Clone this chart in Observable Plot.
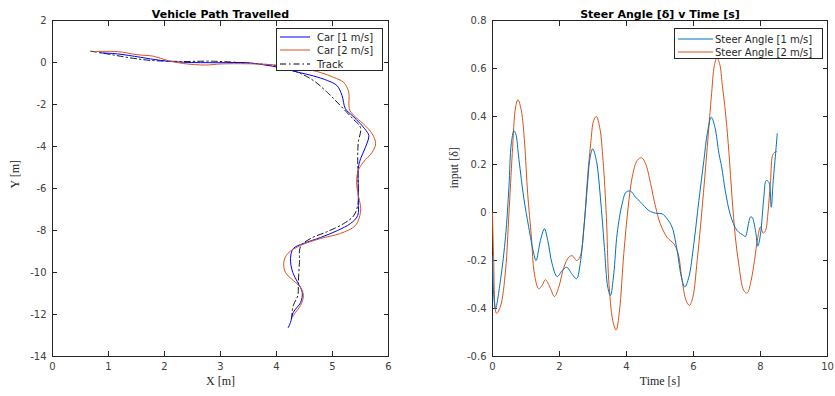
<!DOCTYPE html>
<html><head><meta charset="utf-8">
<script src="https://cdn.jsdelivr.net/npm/d3@7"></script>
<script src="https://cdn.jsdelivr.net/npm/@observablehq/plot@0.6"></script>
<style>
body{margin:0;background:#fff;}
#wrap{position:relative;width:835px;height:396px;overflow:hidden;font-family:"DejaVu Sans",sans-serif;background:#fff;}
#wrap > svg{position:absolute;top:0;font-family:"DejaVu Sans",sans-serif;}
#wrap g[aria-label$="tick label"] text{font-family:"DejaVu Sans",sans-serif;font-size:10px;fill:#404040;}
.legend{position:absolute;border:1px solid #262626;background:#fff;box-sizing:border-box;}
.legend .row{position:absolute;left:0;height:12px;display:flex;align-items:center;white-space:nowrap;font-size:10px;color:#262626;}
</style></head><body><div id="wrap"></div>
<script>
// ---- Left chart: Vehicle Path Travelled ----
const trackX = [0.68,1.04,1.39,1.75,2.29,2.88,3.48,3.95,4.39,4.66,4.91,5.14,5.36,5.50,5.46,5.45,5.46,5.46,5.38,5.20,4.91,4.61,4.43,4.41,4.39,4.38,4.30,4.27];
const trackY = [0.54,0.38,0.22,0.10,0.05,0.06,-0.03,-0.14,-0.48,-0.86,-1.43,-2.05,-2.67,-3.10,-3.81,-4.52,-6.0,-6.67,-7.29,-7.67,-8.05,-8.38,-8.76,-9.52,-10.48,-11.1,-11.57,-12.19];
const car1X = [0.86,1.16,1.57,1.93,2.34,2.95,3.48,3.77,4.02,4.38,4.66,4.91,5.08,5.17,5.23,5.35,5.50,5.62,5.65,5.59,5.50,5.46,5.46,5.46,5.45,5.32,5.09,4.79,4.48,4.30,4.25,4.29,4.38,4.46,4.43,4.30,4.25,4.21];
const car1Y = [0.46,0.41,0.25,0.10,0.01,-0.01,-0.01,-0.11,-0.22,-0.46,-0.64,-0.86,-1.10,-1.57,-2.2,-2.52,-2.92,-3.32,-3.48,-4.03,-4.59,-5.06,-6.01,-6.65,-7.29,-7.67,-8.0,-8.33,-8.62,-8.86,-9.33,-10.0,-10.48,-10.95,-11.43,-11.9,-12.38,-12.62];
const car2X = [0.74,1.16,1.51,1.80,2.05,2.34,2.73,3.0,3.48,3.95,4.48,4.79,5.02,5.20,5.29,5.30,5.38,5.55,5.71,5.77,5.71,5.55,5.46,5.43,5.46,5.50,5.50,5.41,5.14,4.79,4.43,4.20,4.13,4.16,4.30,4.43,4.48,4.43,4.34,4.29];
const car2Y = [0.52,0.52,0.37,0.30,0.10,-0.05,-0.12,-0.07,-0.06,-0.11,-0.29,-0.48,-0.71,-0.95,-1.41,-2.2,-2.52,-2.92,-3.40,-3.87,-4.27,-4.75,-5.14,-5.70,-6.33,-6.81,-7.14,-7.76,-8.14,-8.38,-8.71,-9.10,-9.52,-10.0,-10.38,-10.71,-11.1,-11.57,-11.9,-12.1];
const pathXTicks = [0,1,2,3,4,5,6];
const pathYTicks = [-14,-12,-10,-8,-6,-4,-2,0,2];
const pathLegend = ["Car [1 m/s]","Car [2 m/s]","Track"];

// ---- Right chart: Steer Angle v Time ----
const time1 = [0.0,0.03,0.09,0.24,0.39,0.49,0.56,0.64,0.69,0.79,0.93,1.08,1.23,1.30,1.43,1.55,1.65,1.78,1.93,2.08,2.21,2.38,2.51,2.63,2.73,2.83,2.90,2.99,3.10,3.22,3.34,3.44,3.52,3.62,3.72,3.87,3.99,4.12,4.27,4.42,4.67,4.87,5.07,5.21,5.36,5.51,5.64,5.74,5.86,6.01,6.16,6.31,6.41,6.53,6.64,6.76,6.84,6.95,7.10,7.30,7.50,7.55,7.70,7.75,7.85,7.92,8.0,8.10,8.17,8.25,8.32,8.38,8.45,8.50];
const steer1 = [-0.18,-0.33,-0.40,-0.28,-0.10,0.105,0.286,0.34,0.33,0.22,0.064,-0.06,-0.17,-0.20,-0.117,-0.068,-0.117,-0.214,-0.267,-0.242,-0.228,-0.258,-0.276,-0.20,-0.061,0.105,0.217,0.265,0.217,0.064,-0.145,-0.31,-0.346,-0.255,-0.089,0.036,0.085,0.089,0.064,0.043,0.008,-0.003,-0.006,-0.026,-0.061,-0.158,-0.27,-0.31,-0.27,-0.13,0.05,0.217,0.328,0.397,0.355,0.245,0.19,0.09,-0.01,-0.075,-0.096,-0.10,-0.019,-0.02,-0.075,-0.14,-0.09,0.064,0.133,0.126,0.022,0.133,0.245,0.328];
const time2 = [0.0,0.03,0.12,0.24,0.39,0.49,0.59,0.69,0.76,0.86,0.96,1.05,1.16,1.25,1.38,1.48,1.58,1.71,1.85,1.98,2.13,2.28,2.38,2.51,2.61,2.73,2.83,2.93,3.02,3.10,3.20,3.30,3.40,3.47,3.59,3.69,3.79,3.92,4.05,4.17,4.32,4.45,4.57,4.72,4.87,5.01,5.21,5.41,5.54,5.66,5.78,5.88,5.98,6.11,6.26,6.41,6.54,6.62,6.70,6.78,6.86,6.96,7.06,7.15,7.25,7.35,7.50,7.60,7.72,7.82,7.92,8.0,8.08,8.15,8.22,8.30,8.38,8.48];
const steer2 = [0.0,-0.17,-0.42,-0.39,-0.24,-0.006,0.245,0.44,0.47,0.425,0.286,0.078,-0.10,-0.255,-0.318,-0.304,-0.28,-0.31,-0.35,-0.31,-0.228,-0.186,-0.18,-0.20,-0.186,-0.06,0.133,0.286,0.383,0.40,0.355,0.217,-0.02,-0.283,-0.45,-0.49,-0.41,-0.17,0.022,0.147,0.217,0.228,0.203,0.12,0.022,-0.047,-0.103,-0.13,-0.17,-0.283,-0.367,-0.387,-0.353,-0.20,0.022,0.272,0.495,0.61,0.645,0.62,0.53,0.41,0.245,0.064,-0.103,-0.214,-0.325,-0.336,-0.283,-0.20,-0.103,-0.06,-0.086,-0.075,-0.006,0.133,0.245,0.254];
const timeTicks = [0,2,4,6,8,10];
const steerTicks = [-0.6,-0.4,-0.2,0,0.2,0.4,0.6,0.8];
const steerLegend = ["Steer Angle [1 m/s]","Steer Angle [2 m/s]"];

const BLUE_PATH = "#0000ff", ORANGE = "#d95319", MBLUE = "#0072bd", BLACK = "#000000";
const fmt = d => String(+(+d).toFixed(1));
const labelFont = {fontFamily: "Liberation Serif", fontSize: 12, fill: "#262626"};

function boxAxes(xt, yt, xlabel, ylabel, ydx) {
  return [
    Plot.frame({stroke: "#262626", strokeWidth: 1}),
    Plot.axisX({ticks: xt, tickSize: -5, tickPadding: 11, tickFormat: fmt, label: null, stroke: "#262626"}),
    Plot.axisX({anchor: "top", ticks: xt, tickSize: -5, tickFormat: () => "", label: null, stroke: "#262626"}),
    Plot.axisY({ticks: yt, tickSize: -5, tickPadding: 11, tickFormat: fmt, label: null, stroke: "#262626"}),
    Plot.axisY({anchor: "right", ticks: yt, tickSize: -5, tickFormat: () => "", label: null, stroke: "#262626"}),
    Plot.text([xlabel], {text: d => d, frameAnchor: "bottom", dy: 28, ...labelFont}),
    Plot.text([ylabel], {text: d => d, frameAnchor: "left", dx: ydx, rotate: -90, ...labelFont})
  ];
}

const idx = (a) => a.map((_, i) => i);
const titleOpts = {text: d => d, frameAnchor: "top", dy: -10, fontWeight: "bold", fontSize: 11, fontFamily: "DejaVu Sans", fill: "#000"};

const left = Plot.plot({
  width: 400, height: 396,
  marginLeft: 52, marginRight: 12, marginTop: 20, marginBottom: 40,
  style: {background: "transparent", overflow: "visible"},
  x: {domain: [0, 6]},
  y: {domain: [-14, 2]},
  marks: [
    ...boxAxes(pathXTicks, pathYTicks, "X [m]", "Y [m]", -37),
    Plot.line(idx(trackX), {x: i => trackX[i], y: i => trackY[i], stroke: BLACK, strokeWidth: 0.9, strokeDasharray: "6,3,1.5,3", curve: "catmull-rom"}),
    Plot.line(idx(car1X), {x: i => car1X[i], y: i => car1Y[i], stroke: BLUE_PATH, strokeWidth: 1, curve: "catmull-rom"}),
    Plot.line(idx(car2X), {x: i => car2X[i], y: i => car2Y[i], stroke: ORANGE, strokeWidth: 1, curve: "catmull-rom"}),
    Plot.text(["Vehicle Path Travelled"], titleOpts)
  ]
});
left.style.left = "0px";

const right = Plot.plot({
  width: 405, height: 396,
  marginLeft: 62, marginRight: 8, marginTop: 20, marginBottom: 40,
  style: {background: "transparent", overflow: "visible"},
  x: {domain: [0, 10]},
  y: {domain: [-0.6, 0.8]},
  marks: [
    ...boxAxes(timeTicks, steerTicks, "Time [s]", "input [δ]", -38),
    Plot.line(idx(time2), {x: i => time2[i], y: i => steer2[i], stroke: ORANGE, strokeWidth: 1, curve: "catmull-rom"}),
    Plot.line(idx(time1), {x: i => time1[i], y: i => steer1[i], stroke: MBLUE, strokeWidth: 1, curve: "catmull-rom"}),
    Plot.text(["Steer Angle [δ] v Time [s]"], titleOpts)
  ]
});
right.style.left = "430px";

const wrap = document.getElementById("wrap");
wrap.appendChild(left);
wrap.appendChild(right);

function legend(box, labels, colors, dashes, lineW, rowYs, textX) {
  const d = document.createElement("div");
  d.className = "legend";
  Object.assign(d.style, {left: box[0] + "px", top: box[1] + "px", width: box[2] + "px", height: box[3] + "px"});
  labels.forEach((lab, i) => {
    const r = document.createElement("div");
    r.className = "row";
    r.style.top = (rowYs[i] - 6) + "px";
    r.style.left = "3px";
    r.innerHTML = `<svg width="${lineW}" height="4" style="margin-right:${textX - 3 - lineW}px"><line x1="0" x2="${lineW}" y1="2" y2="2" stroke="${colors[i]}" stroke-width="1" ${dashes[i] ? `stroke-dasharray="${dashes[i]}"` : ""}/></svg><span>${lab}</span>`;
    d.appendChild(r);
  });
  wrap.appendChild(d);
}
legend([276, 28, 107, 43], pathLegend, [BLUE_PATH, ORANGE, BLACK], [null, null, "6,3,1.5,3"], 30, [8, 21, 35], 40);
legend([674, 28, 149, 31], steerLegend, [MBLUE, ORANGE], [null, null], 35, [10, 23], 40);
</script></body></html>
